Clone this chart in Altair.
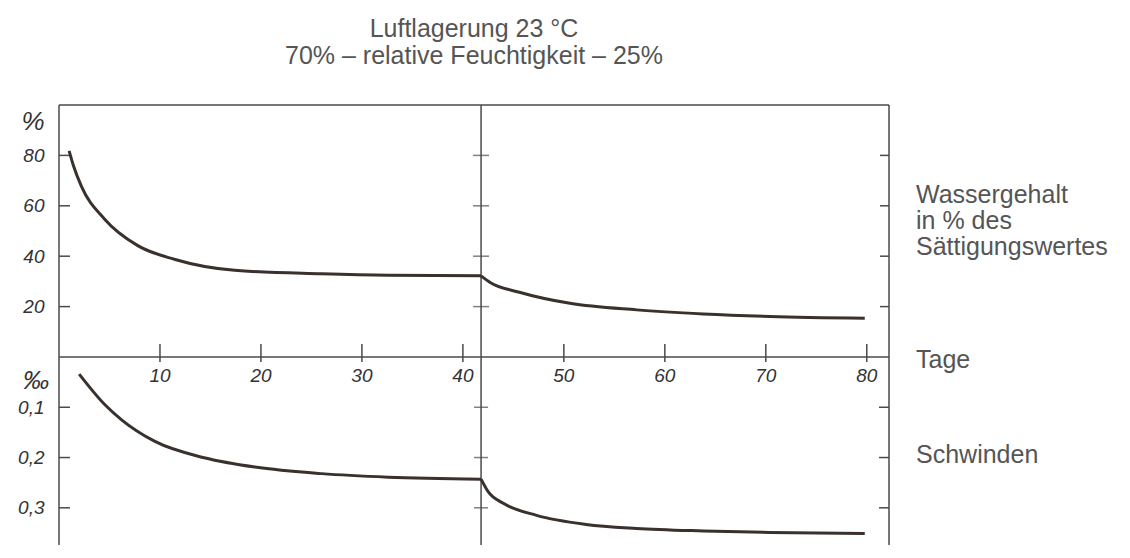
import altair as alt
import pandas as pd

# ---- values ----
water_days = [1.0, 1.4, 2.2, 4.5, 7.8, 11.5, 17.4, 26.0, 32.6, 41.8, 42.7, 45.6, 50.6, 57.2, 63.8, 70.4, 79.8]
water_pct = [81.8, 76.3, 67.9, 54.8, 44.2, 38.7, 34.4, 33.0, 32.4, 32.2, 29.6, 25.7, 21.3, 18.7, 17.1, 16.1, 15.4]
shrink_days = [2.0, 4.55, 6.2, 9.5, 14.5, 19.4, 26.0, 32.6, 41.8, 42.5, 44.0, 47.3, 52.2, 57.2, 63.8, 70.4, 79.8]
shrink_val = [0.034, 0.095, 0.125, 0.168, 0.201, 0.219, 0.232, 0.239, 0.243, 0.268, 0.291, 0.315, 0.333, 0.341, 0.346, 0.349, 0.351]
x_ticks = [10, 20, 30, 40, 50, 60, 70, 80]
water_ticks = [20, 40, 60, 80]
shrink_ticks = [0.1, 0.2, 0.3]
change_day = 41.8
x_max = 82.2
title_lines = ["Luftlagerung 23 °C", "70% – relative Feuchtigkeit – 25%"]
water_label = ["Wassergehalt", "in % des", "Sättigungswertes"]

W, H1, H2 = 830, 252, 186
LINE = "#3a302c"
FRAME = "#4a4a4a"
TXT = "#555555"
LBL = "#333333"
HAND = "Liberation Sans"
SANS = "Liberation Sans"


def split(days, vals):
    rows = []
    for d, v in zip(days, vals):
        if d <= change_day:
            rows.append({"day": d, "v": v, "seg": 1})
        if d >= change_day:
            rows.append({"day": d, "v": v, "seg": 2})
    return pd.DataFrame(rows)


one = pd.DataFrame({"k": [0]})
water_df = split(water_days, water_pct)
shrink_df = split(shrink_days, shrink_val)
xt_df = pd.DataFrame({"t": x_ticks, "lab": [str(t) for t in x_ticks]})
mid_df = pd.DataFrame({"d": [change_day]})
wt_df = pd.DataFrame({"t": water_ticks, "d": [change_day] * len(water_ticks)})
st_df = pd.DataFrame({"t": shrink_ticks, "d": [change_day] * len(shrink_ticks)})

xs = alt.Scale(domain=[0, x_max], nice=False, zero=False)
ys_up = alt.Scale(domain=[0, 100], nice=False)
ys_lo = alt.Scale(domain=[0, 0.37], nice=False, reverse=True)

lab = dict(labelFont=HAND, labelFontStyle="italic", labelFontSize=19, labelColor=LBL)
y_axis_up = alt.Axis(values=water_ticks, domain=False, ticks=False, grid=False, labelPadding=15,
                     title=None, **lab)
y_axis_lo = alt.Axis(values=shrink_ticks, domain=False, ticks=False, grid=False, labelPadding=15,
                     title=None, labelExpr="replace(format(datum.value, '.1f'), '.', ',')", **lab)


def vrule(**enc):
    return alt.Chart(one).mark_rule(color=FRAME, strokeWidth=1.5).encode(**enc)


def text(s, x, y, size=25, color=TXT, font=SANS, align="left", style="normal"):
    return alt.Chart(one).mark_text(
        text=s, font=font, fontSize=size, color=color, align=align,
        baseline="alphabetic", fontStyle=style
    ).encode(x=alt.value(x), y=alt.value(y))


def X(f):
    return alt.X(f, scale=xs, axis=None)


def YU(f):
    return alt.Y(f, scale=ys_up, axis=y_axis_up)


def YL(f):
    return alt.Y(f, scale=ys_lo, axis=y_axis_lo)


# ---------- upper panel ----------
up_line = alt.Chart(water_df).mark_line(color=LINE, strokeWidth=3, interpolate="monotone").encode(
    x=X("day:Q"), y=YU("v:Q"), detail="seg:N",
)
anchor = alt.Chart(one).mark_rule(color="white", strokeOpacity=0, strokeWidth=1).encode(
    x=alt.value(-50.5), x2=alt.value(-50), y=alt.value(-96.5), y2=alt.value(-96)
)
up_frame = [
    vrule(x=alt.value(0), x2=alt.value(W), y=alt.value(0)),
    vrule(x=alt.value(0), x2=alt.value(W), y=alt.value(H1)),
    vrule(x=alt.value(0), y=alt.value(0), y2=alt.value(H1)),
    vrule(x=alt.value(W), y=alt.value(0), y2=alt.value(H1)),
    alt.Chart(mid_df).mark_rule(color=FRAME, strokeWidth=1.5).encode(
        x=X("d:Q"), y=alt.value(0), y2=alt.value(H1)),
]
up_ticks = [
    alt.Chart(wt_df).mark_rule(color=FRAME, strokeWidth=1.5).encode(
        x=alt.value(0), x2=alt.value(11), y=YU("t:Q")),
    alt.Chart(wt_df).mark_tick(color=FRAME, orient="horizontal", size=16, thickness=1.5).encode(
        x=X("d:Q"), y=YU("t:Q")),
    alt.Chart(wt_df).mark_rule(color=FRAME, strokeWidth=1.5).encode(
        x=alt.value(W - 9), x2=alt.value(W), y=YU("t:Q")),
    alt.Chart(xt_df).mark_rule(color=FRAME, strokeWidth=1.5).encode(
        x=X("t:Q"), y=alt.value(H1 - 13), y2=alt.value(H1)),
]
up_text = [
    text(title_lines[0], 415, -68, align="center"),
    text(title_lines[1], 415, -41, align="center"),
    text(water_label[0], 857, 98),
    text(water_label[1], 857, 124),
    text(water_label[2], 857, 150),
    text("%", -26, 25, size=26, color=LBL, font=HAND, align="center", style="italic"),
]
upper = alt.layer(anchor, *up_frame, *up_ticks, up_line, *up_text).properties(width=W, height=H1)

# ---------- lower panel ----------
lo_line = alt.Chart(shrink_df).mark_line(color=LINE, strokeWidth=3, interpolate="monotone").encode(
    x=X("day:Q"), y=YL("v:Q"), detail="seg:N",
)
lo_frame = [
    vrule(x=alt.value(0), y=alt.value(0), y2=alt.value(H2 + 2)),
    vrule(x=alt.value(W), y=alt.value(0), y2=alt.value(H2 + 2)),
    alt.Chart(mid_df).mark_rule(color=FRAME, strokeWidth=1.5).encode(
        x=X("d:Q"), y=alt.value(0), y2=alt.value(H2 + 2)),
]
lo_ticks = [
    alt.Chart(st_df).mark_rule(color=FRAME, strokeWidth=1.5).encode(
        x=alt.value(0), x2=alt.value(11), y=YL("t:Q")),
    alt.Chart(st_df).mark_tick(color=FRAME, orient="horizontal", size=14, thickness=1.5).encode(
        x=X("d:Q"), y=YL("t:Q")),
    alt.Chart(st_df).mark_rule(color=FRAME, strokeWidth=1.5).encode(
        x=alt.value(W - 10), x2=alt.value(W), y=YL("t:Q")),
    alt.Chart(xt_df).mark_rule(color=FRAME, strokeWidth=1.5).encode(
        x=X("t:Q"), y=alt.value(0), y2=alt.value(5)),
    alt.Chart(xt_df).mark_text(font=HAND, fontStyle="italic", fontSize=19, color=LBL,
                               baseline="alphabetic", align="center").encode(
        x=X("t:Q"), y=alt.value(25), text="lab:N"),
]
lo_text = [
    text("Tage", 857, 11),
    text("Schwinden", 857, 106),
    text("‰", -23, 32, size=26, color=LBL, font=HAND, align="center", style="italic"),
]
lower = alt.layer(*lo_frame, *lo_ticks, lo_line, *lo_text).properties(width=W, height=H2)

chart = alt.vconcat(upper, lower, spacing=0, bounds="flush").properties(
    padding=0, background="white"
).configure_view(stroke="transparent")

chart.save("out.html", embed_options={"renderer": "svg", "actions": False})
